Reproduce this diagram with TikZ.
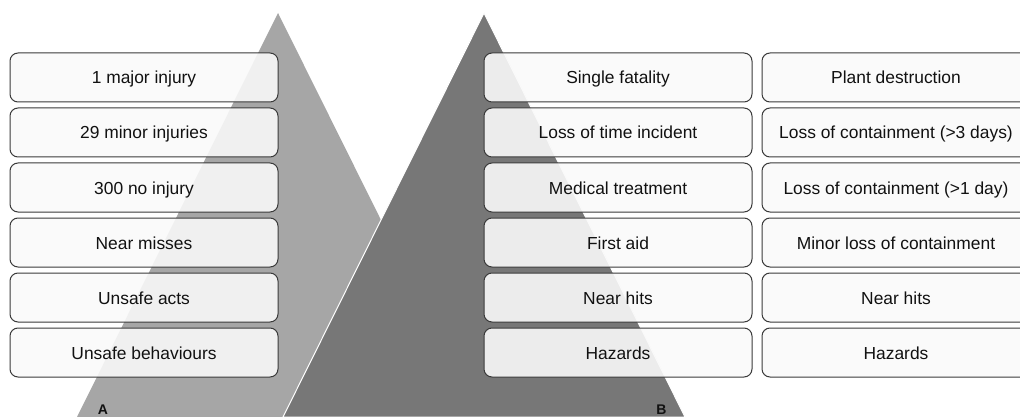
\documentclass[tikz,border=0pt]{standalone}
\usepackage{fontspec}
\setmainfont{Liberation Sans}
\definecolor{lightpyr}{HTML}{A6A6A6}
\definecolor{darkpyr}{HTML}{777777}
\definecolor{boxline}{HTML}{3A3A3A}
\definecolor{boxfill}{HTML}{F9F9F9}
\definecolor{txt}{HTML}{111111}
\begin{document}
\begin{tikzpicture}[x=1pt,y=-1pt,
  level/.style={draw=boxline, line width=1pt, fill=boxfill, fill opacity=0.9,
    text opacity=1, rounded corners=8pt, minimum width=268pt, minimum height=49pt,
    inner sep=0pt, text height=13pt, text depth=0pt, text=txt,
    font=\fontsize{17.4}{20}\selectfont},
  pyrlabel/.style={font=\fontsize{14}{16}\selectfont\bfseries, text=txt, inner sep=0pt}]
\useasboundingbox (0,0) rectangle (1020,417);
\clip (0,0) rectangle (1020,417);
% two pyramids
\fill[lightpyr] (278,13) -- (479,417) -- (77,417) -- cycle;
\filldraw[fill=darkpyr, draw=white, line width=1pt] (484,13) -- (685,417) -- (283,417) -- cycle;
% left column
\foreach \name/\txt [count=\i from 0] in {l1/1 major injury, l2/29 minor injuries,
    l3/300 no injury, l4/Near misses, l5/Unsafe acts, l6/Unsafe behaviours}
  \node[level] (\name) at (144, 77.5+55*\i) {\txt};
% middle column
\foreach \name/\txt [count=\i from 0] in {m1/Single fatality, m2/Loss of time incident,
    m3/Medical treatment, m4/First aid, m5/Near hits, m6/Hazards}
  \node[level] (\name) at (618, 77.5+55*\i) {\txt};
% right column
\foreach \name/\txt [count=\i from 0] in {r1/Plant destruction,
    r2/Loss of containment (>3 days), r3/Loss of containment (>1 day),
    r4/Minor loss of containment, r5/Near hits, r6/Hazards}
  \node[level] (\name) at (896, 77.5+55*\i) {\txt};
% pyramid labels
\node[pyrlabel] (labA) at (103, 410) {A};
\node[pyrlabel] (labB) at (661.5, 410) {B};
\end{tikzpicture}
\end{document}
